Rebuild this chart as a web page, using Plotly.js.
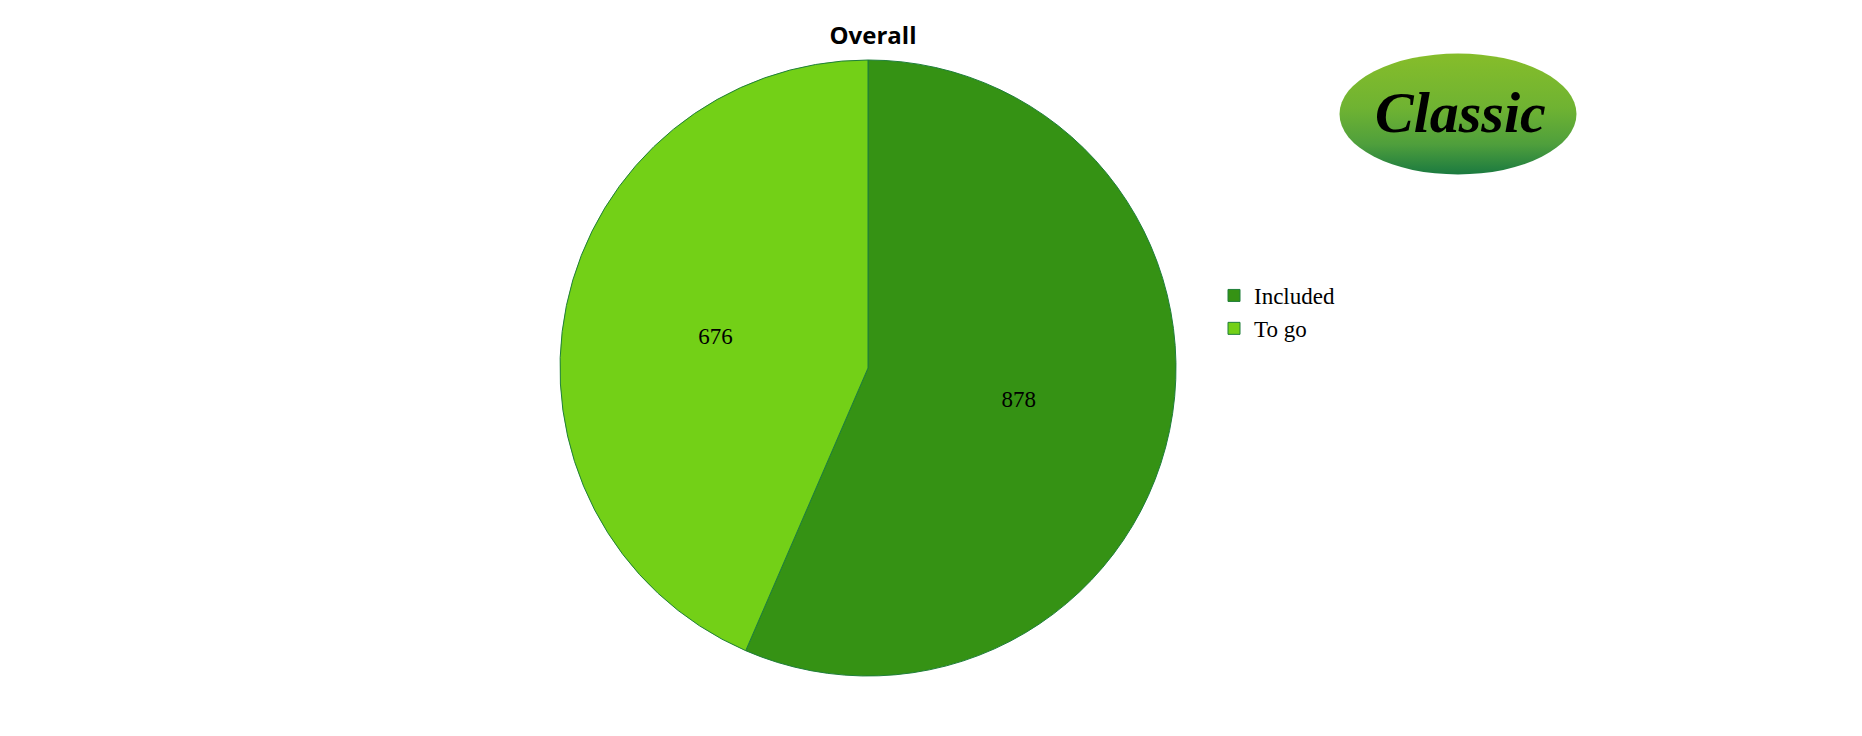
<!DOCTYPE html>
<html>
<head>
<meta charset="utf-8">
<script src="https://cdn.plot.ly/plotly-3.0.1.min.js"></script>
<style>html,body{margin:0;padding:0;background:#fff;}#chart{width:1862px;height:736px;}</style>
</head>
<body>
<div id="chart"></div>
<script>
const categories = ["Included", "To go"];
const values = [878, 676];
const sliceColors = ["#359214", "#73d017"];
const chartTitle = "Overall";
const logoText = "Classic";

const W = 1862, H = 736;
const cx = 868, cy = 368, R = 308;

const logoSvg = '<svg xmlns="http://www.w3.org/2000/svg" width="240" height="124" viewBox="0 0 240 124">' +
  '<defs><linearGradient id="g" x1="0" y1="0" x2="0" y2="1">' +
  '<stop offset="0" stop-color="#86bd2a"/><stop offset="0.45" stop-color="#6fb332"/>' +
  '<stop offset="0.75" stop-color="#4f9f3c"/><stop offset="1" stop-color="#1b7a40"/></linearGradient></defs>' +
  '<ellipse cx="120" cy="62" rx="118.5" ry="60.5" fill="url(#g)"/></svg>';
const logoUri = 'data:image/svg+xml;base64,' + btoa(logoSvg);

const data = [{
  type: 'pie',
  labels: categories,
  values: values,
  sort: false,
  direction: 'clockwise',
  rotation: 0,
  marker: { colors: sliceColors, line: { color: '#1f7f3a', width: 1 } },
  textinfo: 'value',
  textposition: 'inside',
  insidetextorientation: 'horizontal',
  textfont: { family: 'Liberation Serif, Times New Roman, serif', size: 23, color: '#000' },
  hoverinfo: 'label+value',
  domain: { x: [(cx - R) / W, (cx + R) / W], y: [1 - (cy + R) / H, 1 - (cy - R) / H] }
}];

const layout = {
  width: W, height: H,
  margin: { l: 0, r: 0, t: 0, b: 0 },
  paper_bgcolor: '#fff',
  title: {
    text: '<b>' + chartTitle + '</b>',
    x: 873 / W, xanchor: 'center', xref: 'container',
    y: 1 - 36 / H, yanchor: 'middle', yref: 'container',
    font: { family: 'Open Sans, Noto Sans, sans-serif', size: 24, color: '#000' }
  },
  showlegend: true,
  legend: {
    x: 1214 / W, xanchor: 'left',
    y: 1 - 312 / H, yanchor: 'middle',
    font: { family: 'Liberation Serif, Times New Roman, serif', size: 23, color: '#000' },
    bgcolor: 'rgba(0,0,0,0)',
    traceorder: 'normal'
  },
  images: [{
    source: logoUri,
    xref: 'paper', yref: 'paper',
    x: 1338 / W, y: 1 - 52 / H,
    sizex: 240 / W, sizey: 124 / H,
    xanchor: 'left', yanchor: 'top',
    sizing: 'stretch', layer: 'above'
  }],
  annotations: [{
    text: '<b><i>' + logoText + '</i></b>',
    xref: 'paper', yref: 'paper',
    x: 1460 / W, y: 1 - 112 / H,
    xanchor: 'center', yanchor: 'middle',
    showarrow: false,
    font: { family: 'Liberation Serif, DejaVu Serif, serif', size: 58, color: '#000' }
  }]
};

Plotly.newPlot('chart', data, layout, { displayModeBar: false, staticPlot: true });
</script>
</body>
</html>
